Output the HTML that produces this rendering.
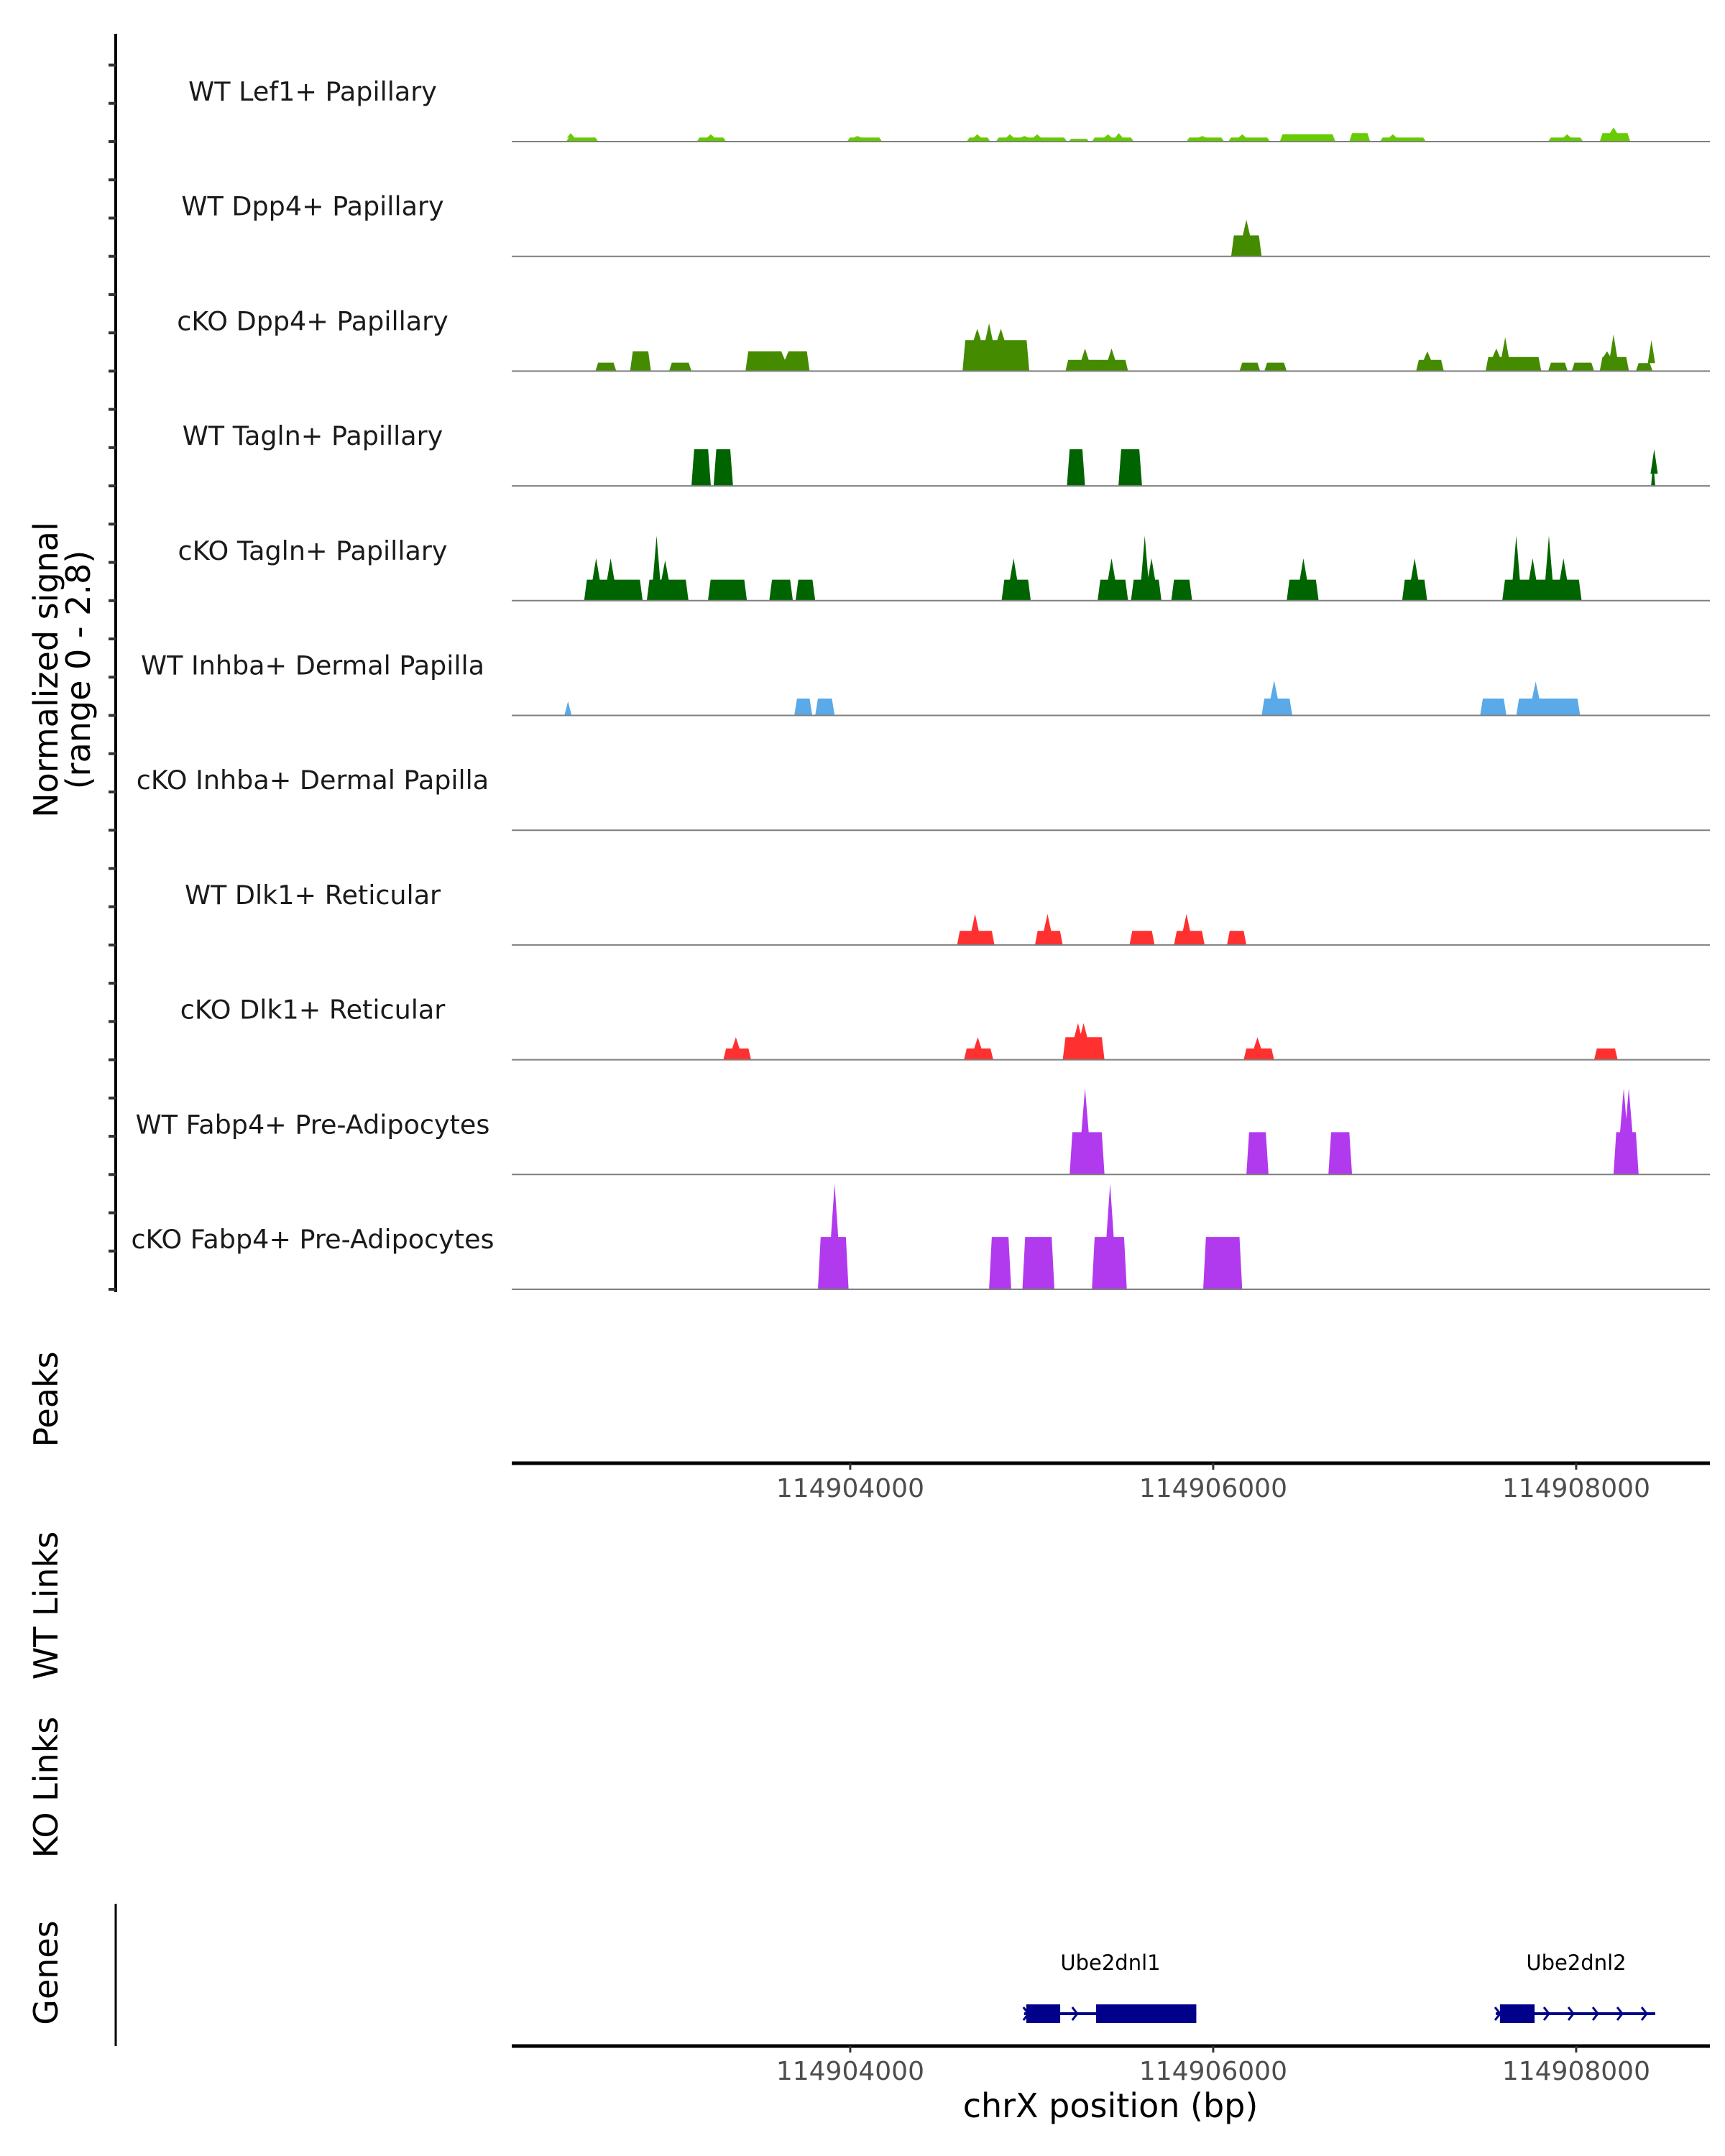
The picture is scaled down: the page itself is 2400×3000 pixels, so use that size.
<!DOCTYPE html>
<html><head><meta charset="utf-8"><style>
html,body{margin:0;padding:0;background:#fff}
svg{display:block}
text{font-family:"DejaVu Sans","Liberation Sans",sans-serif}
</style></head><body>
<svg id="chart" width="2400" height="3000" viewBox="0 0 2400 3000" xmlns="http://www.w3.org/2000/svg">
<g id="static">
<text transform="translate(80,932) rotate(-90)" text-anchor="middle" font-size="46" fill="#000">Normalized signal</text>
<text transform="translate(125,932) rotate(-90)" text-anchor="middle" font-size="46" fill="#000">(range 0 - 2.8)</text>
<line x1="161" y1="47" x2="161" y2="1798" stroke="#000" stroke-width="4"/>
<text transform="translate(80,1947) rotate(-90)" text-anchor="middle" font-size="46">Peaks</text>
<text transform="translate(80,2234) rotate(-90)" text-anchor="middle" font-size="46">WT Links</text>
<text transform="translate(80,2487) rotate(-90)" text-anchor="middle" font-size="46">KO Links</text>
<text transform="translate(80,2745) rotate(-90)" text-anchor="middle" font-size="46">Genes</text>
<line x1="161" y1="2649" x2="161" y2="2847" stroke="#000" stroke-width="3"/>
<text x="1545" y="2946" text-anchor="middle" font-size="46">chrX position (bp)</text>
</g>
<g id="dyn"></g>
</svg>
<script>
const tracks = ["WT Lef1+ Papillary","WT Dpp4+ Papillary","cKO Dpp4+ Papillary","WT Tagln+ Papillary","cKO Tagln+ Papillary","WT Inhba+ Dermal Papilla","cKO Inhba+ Dermal Papilla","WT Dlk1+ Reticular","cKO Dlk1+ Reticular","WT Fabp4+ Pre-Adipocytes","cKO Fabp4+ Pre-Adipocytes"];
const trackColors = ["#66cc00","#458b00","#458b00","#006400","#006400","#5aa9e8","#5aa9e8","#ff3030","#ff3030","#b23aee","#b23aee"];
// peaks: [start, end, value, [[spikePos, spikeValue], ...]]
const peaksLef1 = [[114902435,114902611,0.1,[[114902460,0.21]]],[114903155,114903316,0.1,[[114903232,0.18]]],[114903983,114904175,0.1,[[114904040,0.14]]],[114904642,114904772,0.1,[[114904700,0.18]]],[114904803,114905194,0.1,[[114904880,0.18],[114904960,0.14],[114905030,0.18]]],[114905202,114905317,0.07,[]],[114905332,114905562,0.1,[[114905420,0.18],[114905480,0.21]]],[114905853,114906060,0.1,[[114905940,0.14]]],[114906083,114906313,0.1,[[114906160,0.18]]],[114906367,114906673,0.18,[]],[114906750,114906865,0.21,[]],[114906919,114907172,0.1,[[114906990,0.18]]],[114907846,114908038,0.1,[[114907950,0.18]]],[114908130,114908298,0.21,[[114908206,0.35]]]];
const peaksWtDpp4 = [[114906099,114906267,0.52,[[114906183,0.91]]]];
const peaksKoDpp4 = [[114902596,114902711,0.21,[]],[114902787,114902902,0.49,[]],[114903002,114903125,0.21,[]],[114903423,114903776,0.49,[[114903640,0.28]]],[114904619,114904987,0.77,[[114904700,1.05],[114904765,1.19],[114904830,1.05]]],[114905186,114905531,0.28,[[114905294,0.56],[114905440,0.56]]],[114906145,114906259,0.21,[]],[114906282,114906405,0.21,[]],[114907118,114907271,0.28,[[114907180,0.49]]],[114907501,114907808,0.35,[[114907609,0.84],[114907560,0.56]]],[114907846,114907953,0.21,[]],[114907976,114908099,0.21,[]],[114908130,114908291,0.35,[[114908206,0.91],[114908170,0.49]]],[114908329,114908421,0.2,[[114908415,0.77]]]];
const peaksWtTagln = [[114903125,114903232,0.91,[]],[114903247,114903354,0.91,[]],[114905194,114905294,0.91,[]],[114905478,114905608,0.91,[[114905490,0.91]]],[114908413,114908436,0.3,[[114908430,0.91]]]];
const peaksKoTagln = [[114902534,114902856,0.52,[[114902600,1.05],[114902680,1.05]]],[114902879,114903109,0.52,[[114902933,1.61],[114902980,1.0]]],[114903216,114903431,0.52,[]],[114903554,114903684,0.52,[]],[114903699,114903807,0.52,[]],[114904834,114904995,0.52,[[114904900,1.05]]],[114905363,114905531,0.52,[[114905440,1.05]]],[114905547,114905715,0.52,[[114905623,1.61],[114905660,1.05]]],[114905769,114905884,0.52,[]],[114906405,114906581,0.52,[[114906497,1.05]]],[114907041,114907179,0.52,[[114907110,1.05]]],[114907593,114908030,0.52,[[114907670,1.61],[114907760,1.05],[114907850,1.61],[114907930,1.05]]]];
const peaksWtInhba = [[114902435,114902452,0.0,[[114902445,0.35]]],[114903692,114903791,0.42,[]],[114903807,114903914,0.42,[]],[114906267,114906436,0.42,[[114906336,0.87]]],[114907471,114907616,0.42,[]],[114907670,114908022,0.42,[[114907777,0.84]]]];
const peaksKoInhba = [];
const peaksWtDlk1 = [[114904589,114904795,0.35,[[114904688,0.77]]],[114905018,114905171,0.35,[[114905087,0.77]]],[114905539,114905677,0.35,[]],[114905784,114905953,0.35,[[114905853,0.77]]],[114906076,114906183,0.35,[]]];
const peaksKoDlk1 = [[114903301,114903454,0.28,[[114903370,0.56]]],[114904627,114904788,0.28,[[114904703,0.56]]],[114905171,114905401,0.56,[[114905255,0.91],[114905286,0.91]]],[114906168,114906336,0.28,[[114906244,0.56]]],[114908099,114908229,0.28,[]]];
const peaksWtFabp4 = [[114905209,114905401,1.05,[[114905294,2.14]]],[114906183,114906305,1.05,[]],[114906635,114906765,1.05,[]],[114908206,114908344,1.05,[[114908262,2.14],[114908290,2.14]]]];
const peaksKoFabp4 = [[114903822,114903991,1.3,[[114903914,2.62]]],[114904765,114904887,1.3,[]],[114904949,114905125,1.3,[]],[114905332,114905524,1.3,[[114905432,2.62]]],[114905945,114906160,1.3,[]]];
const allPeaks = [peaksLef1,peaksWtDpp4,peaksKoDpp4,peaksWtTagln,peaksKoTagln,peaksWtInhba,peaksKoInhba,peaksWtDlk1,peaksKoDlk1,peaksWtFabp4,peaksKoFabp4];
const xTicks = [114904000,114906000,114908000];
const genes = ["Ube2dnl1","Ube2dnl2"];
const geneStarts = [114904958,114907557];
const geneEnds = [114905907,114908436];
const exons = [[[114904970,114905157],[114905355,114905907]],[[114907580,114907771]]];

const NS="http://www.w3.org/2000/svg";
const g=document.getElementById('dyn');
const X0=712,X1=2379,BP0=114902135,BP1=114908737;
const xs=bp=>X0+(bp-BP0)/(BP1-BP0)*(X1-X0);
const base0=197,step=159.7,H=157,YMAX=2.8;
function mk(tag,attrs){const e=document.createElementNS(NS,tag);for(const k in attrs)e.setAttribute(k,attrs[k]);g.appendChild(e);return e;}

tracks.forEach((name,i)=>{
  const by=base0+i*step;
  const ys=v=>by-v/YMAX*H;
  for(let k=0;k<3;k++){
    const t=mk('line',{x1:151,x2:161,y1:by-k*step/3,y2:by-k*step/3,stroke:'#333','stroke-width':4});
    
    
  }
  const lab=mk('text',{x:435,y:by-57,'text-anchor':'middle','font-size':36.5,fill:'#1a1a1a'});
  lab.textContent=name;
  
  
  allPeaks[i].forEach(p=>{
    const [s,e,v,sp]=p;
    const sl=Math.min(15,(e-s)/4), hw=20;
    const pts=[[s,0],[s+sl,v]];
    sp.slice().sort((a,b)=>a[0]-b[0]).forEach(q=>{pts.push([q[0]-hw,v],[q[0],q[1]],[q[0]+hw,v]);});
    pts.push([e-sl,v],[e,0]);
    const poly=mk('polygon',{points:pts.map(q=>xs(q[0]).toFixed(1)+','+ys(q[1]).toFixed(1)).join(' '),fill:trackColors[i]});
    
    
  });
  const bl=mk('line',{x1:X0,x2:X1,y1:by,y2:by,stroke:'#7f7f7f','stroke-width':2});
  
  
});

function xAxis(y,nm){
  const ax=mk('line',{x1:X0,x2:X1,y1:y,y2:y,stroke:'#000','stroke-width':5});
  
  
  xTicks.forEach(t=>{
    const tk=mk('line',{x1:xs(t),x2:xs(t),y1:y,y2:y+9,stroke:'#333','stroke-width':3});
    
    
    const tl=mk('text',{x:xs(t),y:y+47,'text-anchor':'middle','font-size':36,fill:'#4d4d4d'});
    tl.textContent=String(t);
    
    
  });
}
xAxis(2036,'peaks-x-axis');
xAxis(2847,'genes-x-axis');

const gy=2802;
genes.forEach((nm,i)=>{
  const x0=xs(geneStarts[i]),x1=xs(geneEnds[i]);
  const ln=mk('line',{x1:x0,x2:x1,y1:gy,y2:gy,stroke:'#00008b','stroke-width':4});
  
  
  for(let x=x0+6;x<=x1;x+=34){
    const ar=mk('polyline',{points:`${x-7},${gy-9} ${x},${gy} ${x-7},${gy+9}`,fill:'none',stroke:'#00008b','stroke-width':3});
    
    
  }
  exons[i].forEach(ex=>{
    const r=mk('rect',{x:xs(ex[0]),y:gy-13,width:xs(ex[1])-xs(ex[0]),height:26,fill:'#00008b'});
    
    
  });
  const t=mk('text',{x:(i===0?1545:2193),y:2741,'text-anchor':'middle','font-size':29,fill:'#000'});
  t.textContent=nm;
  
  
});
</script>
</body></html>
